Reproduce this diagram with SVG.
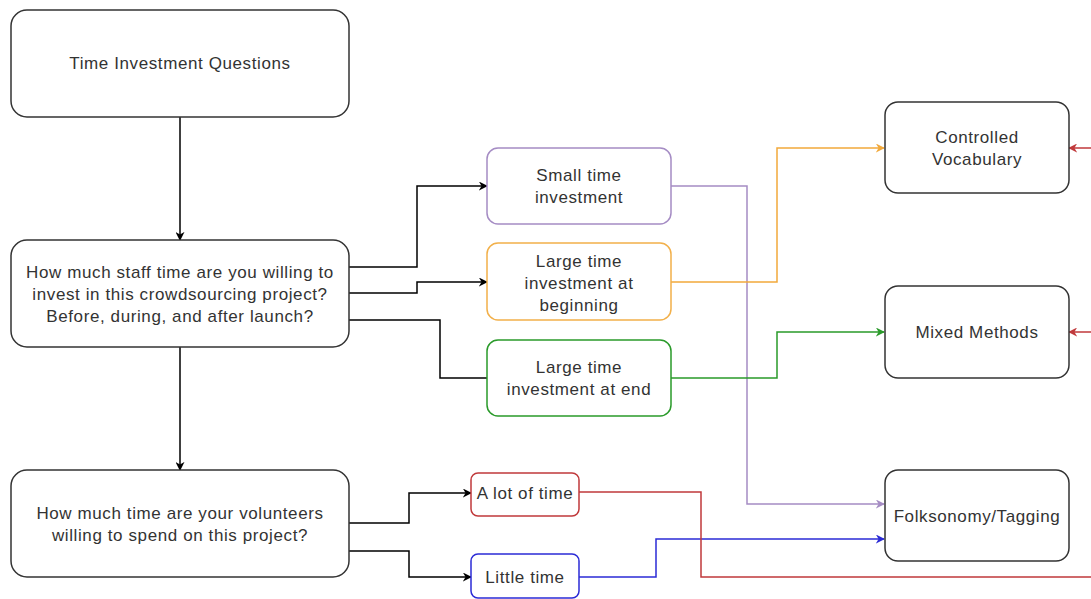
<svg xmlns="http://www.w3.org/2000/svg" width="1091" height="599" viewBox="0 0 1091 599">
<defs>
<style>
.n{fill:#fff;stroke:#333;stroke-width:1.5}
.t{font-family:"Liberation Sans",Arial,sans-serif;font-size:17px;letter-spacing:0.6px;fill:#333;text-anchor:middle}
.c{fill:none;stroke-width:1.5}
</style>
<marker id="ak" viewBox="0 0 10 10" refX="9" refY="5" markerWidth="9" markerHeight="9" markerUnits="userSpaceOnUse" orient="auto"><path d="M0,0 L10,5 L0,10 L3,5 Z" fill="#000"/></marker>
<marker id="ap" viewBox="0 0 10 10" refX="9" refY="5" markerWidth="9" markerHeight="9" markerUnits="userSpaceOnUse" orient="auto"><path d="M0,0 L10,5 L0,10 L3,5 Z" fill="#a58cc4"/></marker>
<marker id="ao" viewBox="0 0 10 10" refX="9" refY="5" markerWidth="9" markerHeight="9" markerUnits="userSpaceOnUse" orient="auto"><path d="M0,0 L10,5 L0,10 L3,5 Z" fill="#f2a93b"/></marker>
<marker id="ag" viewBox="0 0 10 10" refX="9" refY="5" markerWidth="9" markerHeight="9" markerUnits="userSpaceOnUse" orient="auto"><path d="M0,0 L10,5 L0,10 L3,5 Z" fill="#2a9a2a"/></marker>
<marker id="ab" viewBox="0 0 10 10" refX="9" refY="5" markerWidth="9" markerHeight="9" markerUnits="userSpaceOnUse" orient="auto"><path d="M0,0 L10,5 L0,10 L3,5 Z" fill="#2b2bd6"/></marker>
<marker id="ar" viewBox="0 0 10 10" refX="9" refY="5" markerWidth="9" markerHeight="9" markerUnits="userSpaceOnUse" orient="auto"><path d="M0,0 L10,5 L0,10 L3,5 Z" fill="#c0393b"/></marker>
</defs>
<rect width="1091" height="599" fill="#fff"/>
<g id="connectors">
<path class="c" stroke="#000" d="M180,117 V240" marker-end="url(#ak)"/>
<path class="c" stroke="#000" d="M180,347 V470" marker-end="url(#ak)"/>
<path class="c" stroke="#000" d="M349,267 H417 V186 H487" marker-end="url(#ak)"/>
<path class="c" stroke="#000" d="M349,293 H417 V282 H487" marker-end="url(#ak)"/>
<path class="c" stroke="#000" d="M349,320 H440 V378 H487"/>
<path class="c" stroke="#000" d="M349,523 H409 V493 H471" marker-end="url(#ak)"/>
<path class="c" stroke="#000" d="M349,551 H409 V577 H471" marker-end="url(#ak)"/>
<path class="c" stroke="#a58cc4" d="M671,186 H747 V504 H884" marker-end="url(#ap)"/>
<path class="c" stroke="#f2a93b" d="M671,282 H777 V148 H884" marker-end="url(#ao)"/>
<path class="c" stroke="#2a9a2a" d="M671,378 H777 V332 H884" marker-end="url(#ag)"/>
<path class="c" stroke="#2b2bd6" d="M579,577 H656 V539 H884" marker-end="url(#ab)"/>
<path class="c" stroke="#c0393b" d="M579,492 H701 V577 H1091"/>
<path class="c" stroke="#c0393b" d="M1091,148 H1069" marker-end="url(#ar)"/>
<path class="c" stroke="#c0393b" d="M1091,332 H1069" marker-end="url(#ar)"/>
</g>
<g id="q-main">
<rect class="n" x="11" y="10" width="338" height="107" rx="16"/>
<text class="t" x="180" y="69">Time Investment Questions</text>
</g>
<g id="q-staff">
<rect class="n" x="11" y="240" width="338" height="107" rx="16"/>
<text class="t" x="180" y="278">How much staff time are you willing to</text>
<text class="t" x="180" y="300">invest in this crowdsourcing project?</text>
<text class="t" x="180" y="322">Before, during, and after launch?</text>
</g>
<g id="q-volunteers">
<rect class="n" x="11" y="470" width="338" height="107" rx="16"/>
<text class="t" x="180" y="519">How much time are your volunteers</text>
<text class="t" x="180" y="541">willing to spend on this project?</text>
</g>
<g id="small-time">
<rect class="n" style="stroke:#a58cc4" x="487" y="148" width="184" height="76" rx="11"/>
<text class="t" x="579" y="181">Small time</text>
<text class="t" x="579" y="203">investment</text>
</g>
<g id="large-begin">
<rect class="n" style="stroke:#f2b04a" x="487" y="243" width="184" height="77" rx="11"/>
<text class="t" x="579" y="267">Large time</text>
<text class="t" x="579" y="289">investment at</text>
<text class="t" x="579" y="311">beginning</text>
</g>
<g id="large-end">
<rect class="n" style="stroke:#2a9a2a" x="487" y="340" width="184" height="76" rx="11"/>
<text class="t" x="579" y="373">Large time</text>
<text class="t" x="579" y="395">investment at end</text>
</g>
<g id="controlled-vocabulary">
<rect class="n" x="885" y="102" width="184" height="91" rx="13"/>
<text class="t" x="977" y="143">Controlled</text>
<text class="t" x="977" y="165">Vocabulary</text>
</g>
<g id="mixed-methods">
<rect class="n" x="885" y="286" width="184" height="92" rx="13"/>
<text class="t" x="977" y="338">Mixed Methods</text>
</g>
<g id="folksonomy">
<rect class="n" x="885" y="470" width="184" height="91" rx="13"/>
<text class="t" x="977" y="522">Folksonomy/Tagging</text>
</g>
<g id="a-lot-of-time">
<rect class="n" style="stroke:#c0393b" x="471" y="473" width="108" height="43" rx="7"/>
<text class="t" x="525" y="499">A lot of time</text>
</g>
<g id="little-time">
<rect class="n" style="stroke:#2b2bd6" x="471" y="554" width="108" height="44" rx="7"/>
<text class="t" x="525" y="583">Little time</text>
</g>
</svg>
